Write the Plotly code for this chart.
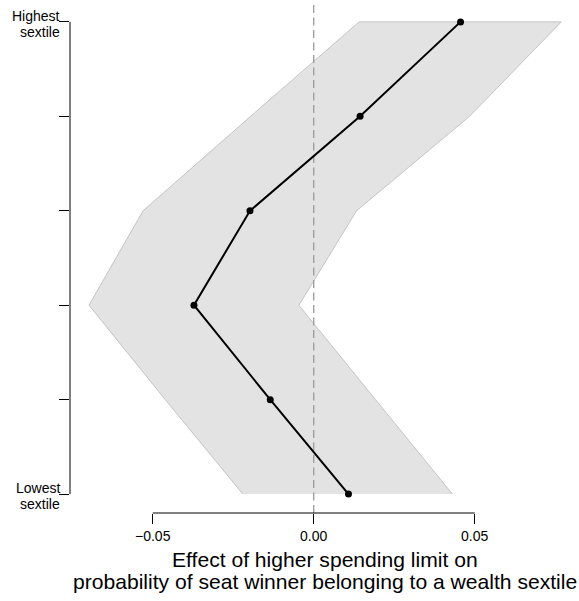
import plotly.graph_objects as go

# Sextiles from lowest (1) to highest (6)
sextile = [1, 2, 3, 4, 5, 6]
estimate = [0.0108, -0.0135, -0.0372, -0.0198, 0.0144, 0.0456]
lower = [-0.0220, -0.0461, -0.0698, -0.0530, -0.0196, 0.0141]
upper = [0.0431, 0.0192, -0.0046, 0.0133, 0.0484, 0.0769]

x_ticks = [-0.05, 0.0, 0.05]
x_ticktext = ["\u22120.05", "0.00", "0.05"]
y_ticks = [1, 2, 3, 4, 5, 6]
y_label_top = ["Lowest", "", "", "", "", "Highest"]
y_label_bottom = ["sextile", "", "", "", "", "sextile"]
title_lines = ["Effect of higher spending limit on",
               "probability of seat winner belonging to a wealth sextile"]

FONT = "Liberation Sans, Arial, Helvetica, sans-serif"

fig = go.Figure()

# confidence band
fig.add_trace(go.Scatter(
    x=lower + upper[::-1],
    y=sextile + sextile[::-1],
    fill="toself", fillcolor="#e3e3e3",
    line=dict(color="#c4c4c4", width=1),
    mode="lines", hoverinfo="skip", showlegend=False))

# zero reference line
fig.add_trace(go.Scatter(
    x=[0, 0], y=[0.8, 6.2], mode="lines",
    line=dict(color="#9a9a9a", width=1.3, dash="8px,4.5px"),
    showlegend=False, hoverinfo="skip"))

# point estimates
fig.add_trace(go.Scatter(
    x=estimate, y=sextile, mode="lines+markers",
    line=dict(color="black", width=2),
    marker=dict(color="black", size=7),
    showlegend=False))

# axis lines spanning only the tick range (R style)
fig.add_shape(type="line", xref="x", yref="paper",
              x0=x_ticks[0], x1=x_ticks[-1], y0=0, y1=0,
              line=dict(color="black", width=1))
fig.add_shape(type="line", xref="paper", yref="y",
              x0=0, x1=0, y0=y_ticks[0], y1=y_ticks[-1],
              line=dict(color="black", width=1))

for yv, t1, t2 in zip(y_ticks, y_label_top, y_label_bottom):
    if t1:
        fig.add_annotation(x=0, xref="paper", y=yv, yref="y", text=t1,
                           xanchor="right", yanchor="middle", xshift=-8, yshift=6,
                           showarrow=False, font=dict(family=FONT, size=14, color="black"))
    if t2:
        fig.add_annotation(x=0, xref="paper", y=yv, yref="y", text=t2,
                           xanchor="right", yanchor="middle", xshift=-8, yshift=-10,
                           showarrow=False, font=dict(family=FONT, size=14, color="black"))

for i, line in enumerate(title_lines):
    fig.add_annotation(x=0.5, xref="paper", y=0, yref="paper", text=line,
                       xanchor="center", yanchor="middle",
                       yshift=-46 - 22.5 * i,
                       showarrow=False, font=dict(family=FONT, size=21.1, color="black"))

fig.update_xaxes(range=[-0.0757, 0.0824], tickvals=x_ticks, ticktext=x_ticktext,
                 ticks="outside", ticklen=10, tickcolor="black", tickwidth=1,
                 showline=False, showgrid=False, zeroline=False,
                 tickfont=dict(family=FONT, size=14, color="black"))
fig.update_yaxes(range=[0.8, 6.2], tickvals=y_ticks, showticklabels=False,
                 ticks="outside", ticklen=10, tickcolor="black", tickwidth=1,
                 showline=False, showgrid=False, zeroline=False)

fig.update_layout(width=579, height=601,
                  margin=dict(l=70, r=0, t=3, b=88),
                  plot_bgcolor="white", paper_bgcolor="white",
                  font=dict(family=FONT))

fig.write_html("out.html", config={"displayModeBar": False},
               post_script="document.body.style.margin='0px';document.body.style.overflow='hidden';")
